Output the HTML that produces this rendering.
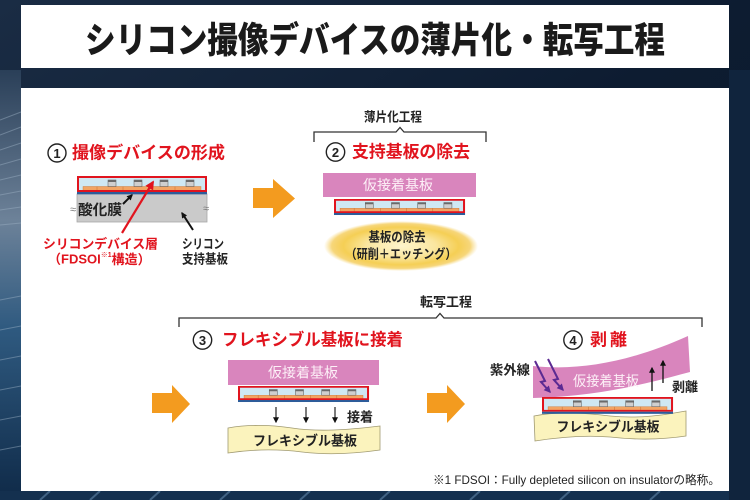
<!DOCTYPE html>
<html><head><meta charset="utf-8">
<style>
html,body{margin:0;padding:0;width:750px;height:500px;overflow:hidden;background:#0c1a2e;}
svg{display:block;}
text{font-family:"Liberation Sans","Noto Sans CJK JP",sans-serif;}
</style></head>
<body>
<svg width="750" height="500" viewBox="0 0 750 500" xmlns="http://www.w3.org/2000/svg">
<defs>
  <linearGradient id="bg" x1="0" y1="0" x2="1" y2="1">
    <stop offset="0" stop-color="#1a2c44"/>
    <stop offset="0.5" stop-color="#0d1c31"/>
    <stop offset="1" stop-color="#0a1729"/>
  </linearGradient>
  <linearGradient id="leftg" x1="0" y1="0" x2="0" y2="1">
    <stop offset="0" stop-color="#2a3f58"/>
    <stop offset="0.35" stop-color="#6d8299"/>
    <stop offset="0.6" stop-color="#2f5a80"/>
    <stop offset="1" stop-color="#0f2a48"/>
  </linearGradient>
  <radialGradient id="glow" cx="0.5" cy="0.5" r="0.5">
    <stop offset="0" stop-color="#fdf4cc"/>
    <stop offset="0.45" stop-color="#fae6a0"/>
    <stop offset="0.75" stop-color="#f5cf55"/>
    <stop offset="0.9" stop-color="#f3c542" stop-opacity="0.7"/>
    <stop offset="1" stop-color="#f5d060" stop-opacity="0"/>
  </radialGradient>
  <marker id="ab" viewBox="0 0 10 10" refX="8" refY="5" markerWidth="6" markerHeight="6" markerUnits="userSpaceOnUse" orient="auto">
    <path d="M0,0 L10,5 L0,10 z" fill="#111"/>
  </marker>
  <marker id="ar" viewBox="0 0 10 10" refX="8" refY="5" markerWidth="9" markerHeight="9" markerUnits="userSpaceOnUse" orient="auto">
    <path d="M0,0 L10,5 L0,10 z" fill="#e1141e"/>
  </marker>
  <marker id="ap" viewBox="0 0 10 10" refX="8" refY="5" markerWidth="7" markerHeight="7" markerUnits="userSpaceOnUse" orient="auto">
    <path d="M0,0 L10,5 L0,10 z" fill="#5b2a92"/>
  </marker>
  <g id="dev">
    <rect x="0" y="0" width="130" height="16" fill="#cfe8f3"/>
    <rect x="6" y="10.5" width="118" height="4.5" fill="#f2a463" stroke="#c8702e" stroke-width="0.4"/>
    <g stroke="#c8702e" stroke-width="0.5">
      <line x1="20" y1="10.5" x2="20" y2="15"/><line x1="46" y1="10.5" x2="46" y2="15"/>
      <line x1="72" y1="10.5" x2="72" y2="15"/><line x1="98" y1="10.5" x2="98" y2="15"/>
    </g>
    <g fill="#cfcfcf" stroke="#555" stroke-width="0.5">
      <rect x="31" y="4" width="8" height="6.5"/><rect x="57" y="4" width="8" height="6.5"/>
      <rect x="83" y="4" width="8" height="6.5"/><rect x="109" y="4" width="8" height="6.5"/>
    </g>
    <g fill="#6a6a6a">
      <rect x="31" y="4" width="8" height="2"/><rect x="57" y="4" width="8" height="2"/>
      <rect x="83" y="4" width="8" height="2"/><rect x="109" y="4" width="8" height="2"/>
    </g>
    <rect x="1" y="1" width="128" height="14" fill="none" stroke="#e1141e" stroke-width="2"/>
    <rect x="0" y="16" width="130" height="2.3" fill="#2d5c9a"/>
  </g>
</defs>

<!-- background -->
<rect x="0" y="0" width="750" height="500" fill="url(#bg)"/>
<rect x="0" y="70" width="21" height="430" fill="url(#leftg)"/>
<g stroke="#9fb3c6" stroke-width="1" opacity="0.45">
  <line x1="0" y1="120" x2="21" y2="112"/><line x1="0" y1="135" x2="21" y2="127"/>
  <line x1="0" y1="150" x2="21" y2="143"/><line x1="0" y1="165" x2="21" y2="159"/>
  <line x1="0" y1="180" x2="21" y2="175"/><line x1="0" y1="195" x2="21" y2="191"/>
  <line x1="0" y1="210" x2="21" y2="207"/><line x1="0" y1="225" x2="21" y2="223"/>
  <line x1="0" y1="300" x2="21" y2="296"/><line x1="0" y1="330" x2="21" y2="326"/>
  <line x1="0" y1="360" x2="21" y2="356"/><line x1="0" y1="390" x2="21" y2="386"/>
  <line x1="0" y1="420" x2="21" y2="416"/><line x1="0" y1="450" x2="21" y2="446"/>
</g>
<rect x="0" y="491" width="750" height="9" fill="#14304f"/>
<g stroke="#5f86aa" stroke-width="2" opacity="0.6">
  <line x1="40" y1="500" x2="50" y2="491"/><line x1="90" y1="500" x2="100" y2="491"/>
  <line x1="150" y1="500" x2="160" y2="491"/><line x1="220" y1="500" x2="230" y2="491"/>
  <line x1="300" y1="500" x2="310" y2="491"/><line x1="380" y1="500" x2="390" y2="491"/>
  <line x1="470" y1="500" x2="480" y2="491"/><line x1="560" y1="500" x2="570" y2="491"/>
  <line x1="650" y1="500" x2="660" y2="491"/>
</g>
<rect x="729" y="70" width="21" height="430" fill="#10243d"/>

<!-- title box -->
<rect x="21" y="5" width="708" height="63" fill="#ffffff"/>
<text x="85" y="40" dominant-baseline="central" font-size="36" font-weight="900" fill="#1a1a1a" textLength="580" lengthAdjust="spacingAndGlyphs">シリコン撮像デバイスの薄片化・転写工程</text>

<!-- main box -->
<rect x="21" y="88" width="708" height="403" fill="#ffffff"/>

<!-- ===== Section 1 ===== -->
<circle cx="57" cy="153" r="9" fill="none" stroke="#222" stroke-width="1.4"/>
<text x="57" y="153.5" dominant-baseline="central" text-anchor="middle" font-size="13" font-weight="700" fill="#222">1</text>
<text x="72" y="153" dominant-baseline="central" font-size="17" font-weight="700" fill="#e1141e" textLength="153" lengthAdjust="spacingAndGlyphs">撮像デバイスの形成</text>

<rect x="77" y="194" width="130" height="28" fill="#cacaca" stroke="#a8a8a8" stroke-width="0.8"/>
<use href="#dev" transform="translate(77,176)"/>
<text x="73" y="210" dominant-baseline="central" text-anchor="middle" font-size="11" fill="#777">≈</text>
<text x="206" y="209" dominant-baseline="central" text-anchor="middle" font-size="11" fill="#777">≈</text>
<text x="78" y="211" dominant-baseline="central" font-size="14.5" font-weight="700" fill="#222" textLength="44" lengthAdjust="spacingAndGlyphs">酸化膜</text>

<line x1="123" y1="204" x2="132" y2="195" stroke="#111" stroke-width="2" marker-end="url(#ab)"/>
<line x1="193" y1="230" x2="182" y2="213" stroke="#111" stroke-width="2" marker-end="url(#ab)"/>
<line x1="122" y1="233" x2="153" y2="182" stroke="#e1141e" stroke-width="2.2" marker-end="url(#ar)"/>

<text x="43" y="244" dominant-baseline="central" font-size="13" font-weight="700" fill="#e1141e" textLength="115" lengthAdjust="spacingAndGlyphs">シリコンデバイス層</text>
<text x="48" y="259" dominant-baseline="central" font-size="13" font-weight="700" fill="#e1141e">（FDSOI<tspan font-size="7" dy="-4">※1</tspan><tspan dy="4">構造）</tspan></text>
<text x="182" y="244" dominant-baseline="central" font-size="13" font-weight="700" fill="#222" textLength="42" lengthAdjust="spacingAndGlyphs">シリコン</text>
<text x="182" y="259" dominant-baseline="central" font-size="13" font-weight="700" fill="#222" textLength="46" lengthAdjust="spacingAndGlyphs">支持基板</text>

<!-- arrow 1 -->
<path d="M253,188 H273 V179 L295,198.5 L273,218 V208 H253 Z" fill="#f39b1f"/>

<!-- ===== Section 2 ===== -->
<text x="393" y="117" dominant-baseline="central" text-anchor="middle" font-size="13" font-weight="700" fill="#222" textLength="58" lengthAdjust="spacingAndGlyphs">薄片化工程</text>
<path d="M314,142 V132 H396 L400,127.5 L404,132 H486 V142" fill="none" stroke="#333" stroke-width="1.3"/>
<circle cx="335.5" cy="152" r="9.2" fill="none" stroke="#222" stroke-width="1.4"/>
<text x="335.5" y="152.5" dominant-baseline="central" text-anchor="middle" font-size="13" font-weight="700" fill="#222">2</text>
<text x="352" y="152" dominant-baseline="central" font-size="17" font-weight="700" fill="#e1141e" textLength="118" lengthAdjust="spacingAndGlyphs">支持基板の除去</text>

<rect x="323" y="173" width="153" height="24" fill="#d985bd"/>
<text x="398" y="185" dominant-baseline="central" text-anchor="middle" font-size="14" fill="#fdf0f7" textLength="70" lengthAdjust="spacingAndGlyphs">仮接着基板</text>
<use href="#dev" transform="translate(334,199) scale(1.008,0.875)"/>

<ellipse cx="401" cy="246" rx="77" ry="25" fill="url(#glow)"/>
<text x="397" y="237" dominant-baseline="central" text-anchor="middle" font-size="13" font-weight="700" fill="#222" textLength="57" lengthAdjust="spacingAndGlyphs">基板の除去</text>
<text x="401" y="254" dominant-baseline="central" text-anchor="middle" font-size="13" font-weight="700" fill="#222" textLength="111" lengthAdjust="spacingAndGlyphs">（研削＋エッチング）</text>

<!-- transfer bracket -->
<text x="446" y="302" dominant-baseline="central" text-anchor="middle" font-size="13" font-weight="700" fill="#222" textLength="52" lengthAdjust="spacingAndGlyphs">転写工程</text>
<path d="M179,327 V318 H436 L440,313.5 L444,318 H702 V327" fill="none" stroke="#333" stroke-width="1.3"/>

<!-- arrow 2 -->
<path d="M152,393 H172 V385 L190,404 L172,423 V413 H152 Z" fill="#f39b1f"/>

<!-- ===== Section 3 ===== -->
<circle cx="202.5" cy="340" r="9.2" fill="none" stroke="#222" stroke-width="1.4"/>
<text x="202.5" y="340.5" dominant-baseline="central" text-anchor="middle" font-size="13" font-weight="700" fill="#222">3</text>
<text x="222" y="340" dominant-baseline="central" font-size="17" font-weight="700" fill="#e1141e" textLength="181" lengthAdjust="spacingAndGlyphs">フレキシブル基板に接着</text>

<rect x="228" y="360" width="151" height="25" fill="#d985bd"/>
<text x="303" y="372.5" dominant-baseline="central" text-anchor="middle" font-size="14" fill="#fdf0f7" textLength="70" lengthAdjust="spacingAndGlyphs">仮接着基板</text>
<use href="#dev" transform="translate(238,386) scale(1.008,0.875)"/>

<g stroke="#111" stroke-width="1.1">
  <line x1="276" y1="407" x2="276" y2="422" marker-end="url(#ab)"/>
  <line x1="306" y1="407" x2="306" y2="422" marker-end="url(#ab)"/>
  <line x1="335" y1="407" x2="335" y2="422" marker-end="url(#ab)"/>
</g>
<text x="347" y="417" dominant-baseline="central" font-size="13" font-weight="700" fill="#222" textLength="26" lengthAdjust="spacingAndGlyphs">接着</text>

<path d="M228,428 C250,424 272,425 292,428 C318,432 348,430 380,426 L380,450 C352,454 326,455 302,452 C278,449 254,449 228,453 Z" fill="#fbf3bd" stroke="#a09a72" stroke-width="0.8"/>
<text x="305" y="441" dominant-baseline="central" text-anchor="middle" font-size="13.5" font-weight="700" fill="#222" textLength="104" lengthAdjust="spacingAndGlyphs">フレキシブル基板</text>

<!-- arrow 3 -->
<path d="M427,393 H447 V385 L465,404 L447,423 V413 H427 Z" fill="#f39b1f"/>

<!-- ===== Section 4 ===== -->
<circle cx="573" cy="340" r="9.2" fill="none" stroke="#222" stroke-width="1.4"/>
<text x="573" y="340.5" dominant-baseline="central" text-anchor="middle" font-size="13" font-weight="700" fill="#222">4</text>
<text x="590" y="340" dominant-baseline="central" font-size="17" font-weight="700" fill="#e1141e">剥</text>
<text x="610" y="340" dominant-baseline="central" font-size="17" font-weight="700" fill="#e1141e">離</text>

<path d="M533,366 C580,371 630,362 688,336 L690,372 C645,384 600,396 533,398 Z" fill="#d985bd"/>
<text x="606" y="381" dominant-baseline="central" text-anchor="middle" font-size="14" fill="#fdf0f7" textLength="66" lengthAdjust="spacingAndGlyphs">仮接着基板</text>

<g fill="none" stroke="#5b2a92" stroke-width="2">
  <polyline points="535,361 545,381 541,382 550,392" marker-end="url(#ap)"/>
  <polyline points="548,359 558,379 554,380 563,390" marker-end="url(#ap)"/>
</g>
<text x="490" y="370" dominant-baseline="central" font-size="13" font-weight="700" fill="#222" textLength="40" lengthAdjust="spacingAndGlyphs">紫外線</text>

<g stroke="#111" stroke-width="1.3">
  <line x1="652" y1="391" x2="652" y2="368" marker-end="url(#ab)"/>
  <line x1="663" y1="383" x2="663" y2="361" marker-end="url(#ab)"/>
</g>
<text x="672" y="387" dominant-baseline="central" font-size="13" font-weight="700" fill="#222" textLength="26" lengthAdjust="spacingAndGlyphs">剥離</text>

<path d="M534,416 C558,411 585,413 610,416 C640,419 664,415 686,411 L686,436 C660,440 636,440 610,437 C585,435 560,437 535,441 Z" fill="#fbf3bd" stroke="#a09a72" stroke-width="0.8"/>
<use href="#dev" transform="translate(542,397) scale(1.008,0.92)"/>
<text x="608" y="427" dominant-baseline="central" text-anchor="middle" font-size="13.5" font-weight="700" fill="#222" textLength="103" lengthAdjust="spacingAndGlyphs">フレキシブル基板</text>

<!-- footnote -->
<text x="433" y="480" dominant-baseline="central" font-size="12" fill="#222" textLength="287" lengthAdjust="spacingAndGlyphs">※1 FDSOI：Fully depleted silicon on insulatorの略称。</text>
</svg>
</body></html>
